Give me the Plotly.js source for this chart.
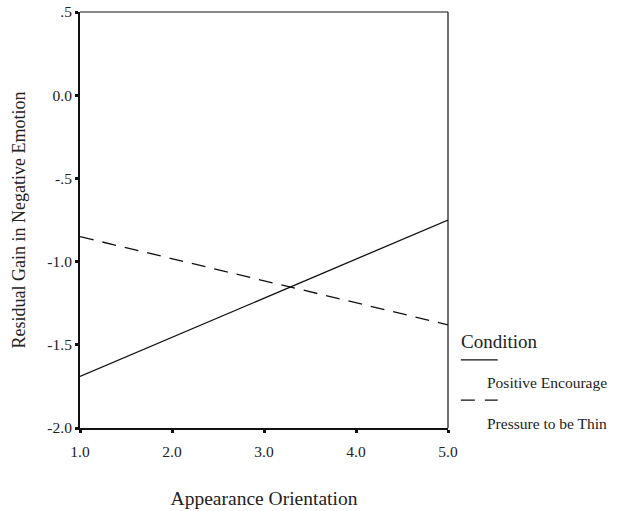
<!DOCTYPE html>
<html><head><meta charset="utf-8">
<script src="https://cdn.plot.ly/plotly-3.0.1.min.js"></script>
<style>body{margin:0;background:#fff}#c{width:619px;height:511px}</style>
</head><body><div id="c"></div>
<script>
const xValues = [1.0, 5.0];
const positiveEncourage = [-1.69, -0.75];
const pressureToBeThin = [-0.85, -1.38];
const seriesNames = ["Positive Encourage", "Pressure to be Thin"];
const legendTitle = "Condition";
const xTickVals = [1, 2, 3, 4, 5];
const xTickText = ["1.0", "2.0", "3.0", "4.0", "5.0"];
const yTickVals = [0.5, 0, -0.5, -1, -1.5, -2];
const yTickText = [".5", "0.0", "-.5", "-1.0", "-1.5", "-2.0"];

const font = "Liberation Serif, Times New Roman, serif";
const traces = [
  {x: xValues, y: positiveEncourage, name: seriesNames[0], mode: "lines", line: {color: "#111", width: 1.3, dash: "solid"}},
  {x: xValues, y: pressureToBeThin, name: seriesNames[1], mode: "lines", line: {color: "#111", width: 1.3, dash: "14px,9px"}}
];
const layout = {
  width: 619, height: 511,
  margin: {l: 80, r: 171, t: 12, b: 83},
  paper_bgcolor: "#fff", plot_bgcolor: "#fff",
  showlegend: false,
  font: {family: font, color: "#111", size: 15},
  xaxis: {range: [1, 5], tickvals: xTickVals, ticktext: xTickText, showgrid: false, zeroline: false,
    showline: true, linecolor: "#111", linewidth: 2, ticks: "outside", ticklen: 3, tickwidth: 3, tickcolor: "#111",
    ticklabelstandoff: 5,
    tickfont: {size: 15.5, family: font, color: "#222"},
    title: {text: "Appearance Orientation", font: {size: 19.5, family: font, color: "#222"}, standoff: 33}},
  yaxis: {range: [-2, 0.5], tickvals: yTickVals, ticktext: yTickText, showgrid: false, zeroline: false,
    showline: true, linecolor: "#111", linewidth: 2, ticks: "outside", ticklen: 3, tickwidth: 3, tickcolor: "#111",
    tickfont: {size: 15.5, family: font, color: "#222"},
    title: {text: "Residual Gain in Negative Emotion", font: {size: 18, family: font, color: "#222"}, standoff: 17}},
  shapes: [
    {type: "line", xref: "paper", yref: "paper", x0: 0, x1: 1, y0: 1, y1: 1, line: {color: "#111", width: 1.2}},
    {type: "line", xref: "paper", yref: "paper", x0: 1, x1: 1, y0: 0, y1: 1, line: {color: "#111", width: 1.2}},
    {type: "line", xref: "paper", yref: "paper", x0: 1.035, x1: 1.135, y0: 0.164, y1: 0.164, line: {color: "#111", width: 1.3}},
    {type: "line", xref: "paper", yref: "paper", x0: 1.035, x1: 1.135, y0: 0.067, y1: 0.067, line: {color: "#111", width: 1.3, dash: "14px,10px"}}
  ],
  annotations: [
    {xref: "paper", yref: "paper", x: 1.030, y: 0.207, xanchor: "left", yanchor: "middle", text: legendTitle, showarrow: false, font: {size: 19, family: font, color: "#222"}},
    {xref: "paper", yref: "paper", x: 1.100, y: 0.109, xanchor: "left", yanchor: "middle", text: seriesNames[0], showarrow: false, font: {size: 15.5, family: font, color: "#222"}},
    {xref: "paper", yref: "paper", x: 1.100, y: 0.010, xanchor: "left", yanchor: "middle", text: seriesNames[1], showarrow: false, font: {size: 15.5, family: font, color: "#222"}}
  ]
};
Plotly.newPlot("c", traces, layout, {displayModeBar: false, staticPlot: true});
</script></body></html>
